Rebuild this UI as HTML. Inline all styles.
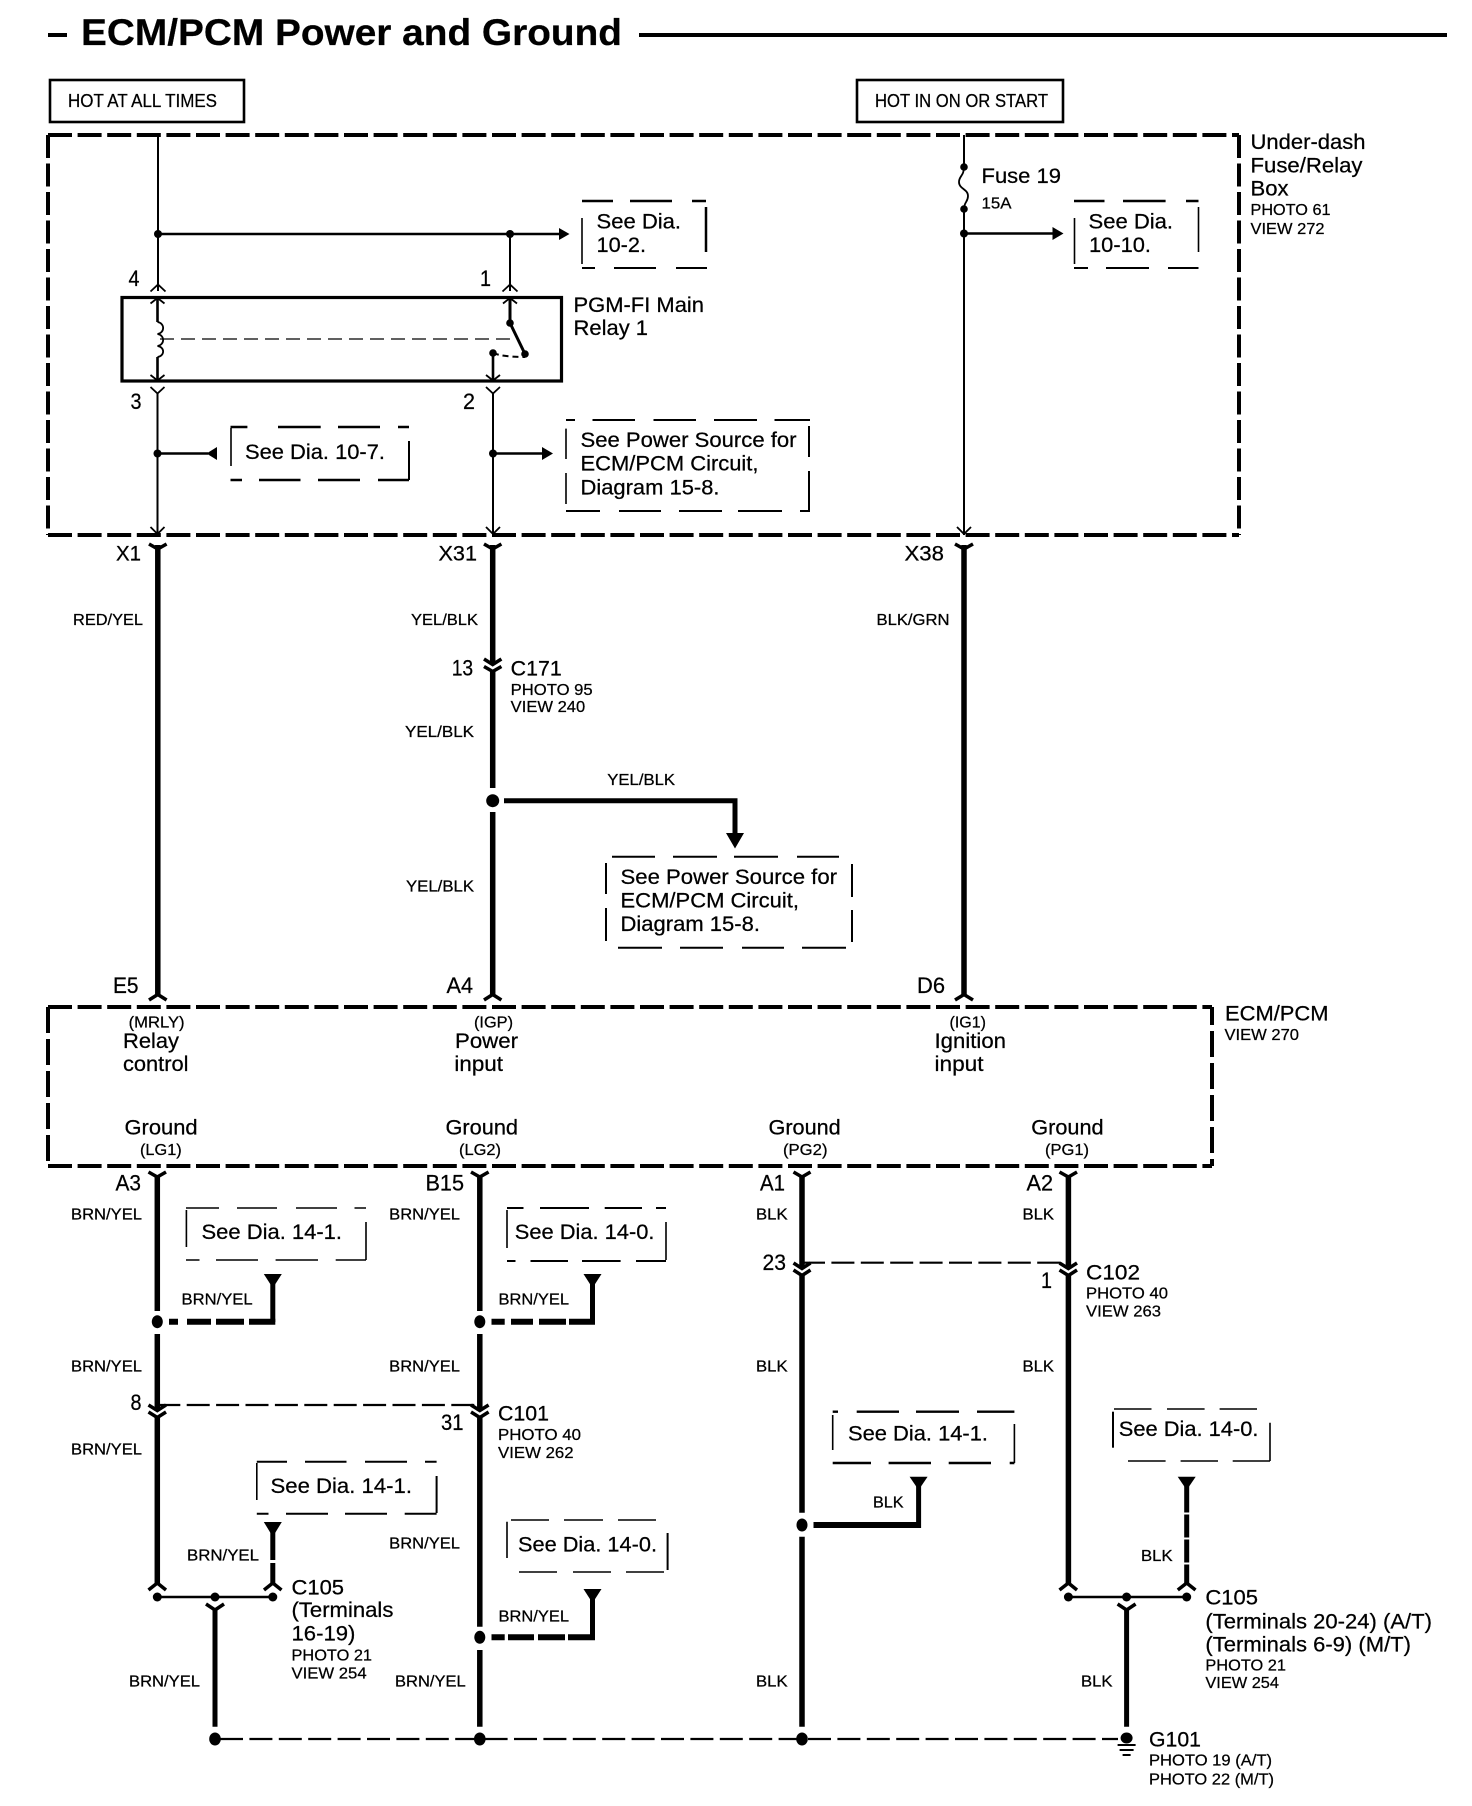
<!DOCTYPE html>
<html lang="en">
<head>
<meta charset="utf-8">
<title>ECM/PCM Power and Ground</title>
<style>
html,body{margin:0;padding:0;background:#fff}
svg{display:block}
text{font-family:"Liberation Sans",sans-serif;fill:#000;stroke:#000;stroke-width:.25}
.t{font-size:37px;font-weight:bold}
.m{font-size:21px}
.s{font-size:16px}
.h{font-size:18px}
.n{font-size:22px}
.w{fill:none;stroke:#000}
.b{fill:none;stroke:#000;stroke-width:5.5}
.c{fill:none;stroke:#000;stroke-width:3.5}
.f{fill:none;stroke:#000;stroke-width:1.8}
.d{fill:none;stroke:#000;stroke-width:2}
.e{fill:none;stroke:#000;stroke-width:4;stroke-dasharray:24 5.6}
.v{fill:none;stroke:#000;stroke-width:4;stroke-dasharray:23 5.5}
.x{fill:none;stroke:#000;stroke-width:4;stroke-dasharray:26 6}
.l{fill:none;stroke:#000;stroke-width:2.2;stroke-dasharray:23 6.4}
.k{fill:#000;stroke:none}
</style>
</head>
<body>
<svg width="1472" height="1806" viewBox="0 0 1472 1806" xmlns="http://www.w3.org/2000/svg">
<rect width="1472" height="1806" fill="#fff"/>

<!-- Title -->
<path class="w" stroke-width="4" d="M48 35H67M639 35H1447"/>
<text class="t" x="81" y="45" textLength="541" lengthAdjust="spacingAndGlyphs">ECM/PCM Power and Ground</text>

<!-- Hot boxes -->
<rect class="w" stroke-width="2.6" x="50" y="80" width="194" height="42"/>
<text class="h" x="68" y="107" textLength="149" lengthAdjust="spacingAndGlyphs">HOT AT ALL TIMES</text>
<rect class="w" stroke-width="2.6" x="857" y="80" width="206" height="42"/>
<text class="h" x="875" y="107" textLength="173" lengthAdjust="spacingAndGlyphs">HOT IN ON OR START</text>

<!-- Under-dash box -->
<path class="e" d="M48 135H1239"/>
<path class="e" d="M48 535H1239"/>
<path class="v" d="M48 135V535"/>
<path class="v" d="M1239 135V535"/>
<text class="m" x="1250.500" y="149" textLength="115" lengthAdjust="spacingAndGlyphs">Under-dash</text>
<text class="m" x="1250.500" y="172.500" textLength="112" lengthAdjust="spacingAndGlyphs">Fuse/Relay</text>
<text class="m" x="1250.500" y="195.500" textLength="38" lengthAdjust="spacingAndGlyphs">Box</text>
<text class="s" x="1250.500" y="215" textLength="80" lengthAdjust="spacingAndGlyphs">PHOTO 61</text>
<text class="s" x="1250.500" y="234" textLength="74" lengthAdjust="spacingAndGlyphs">VIEW 272</text>

<!-- Top wiring -->
<path class="d" d="M158 135V291M510 234V291"/>
<path class="w" stroke-width="2.6" d="M158 234H560"/>
<circle class="k" cx="158" cy="234" r="4"/><circle class="k" cx="510" cy="234" r="4"/>
<path class="k" d="M559 228L569.500 234L559 240Z"/>
<path class="f" d="M150.500 291.500L158 284.500L165.500 291.500M502.500 291.500L510 284.500L517.500 291.500"/>
<text class="n" x="128.500" y="286" textLength="11" lengthAdjust="spacingAndGlyphs">4</text>
<text class="n" x="480" y="286" textLength="11" lengthAdjust="spacingAndGlyphs">1</text>
<text class="n" x="130.500" y="409" textLength="11" lengthAdjust="spacingAndGlyphs">3</text>
<text class="n" x="463" y="409" textLength="12" lengthAdjust="spacingAndGlyphs">2</text>

<!-- See Dia 10-2 -->
<path class="w" stroke-width="2.5" d="M582 201H613M630 201H672M692 201H706M706 207V252"/>
<path class="d" d="M582 268H595M614 268H656M676 268H707"/>
<path class="w" stroke-width="1.6" d="M582 218V264"/>
<text class="m" x="596.500" y="228.500" textLength="84.500" lengthAdjust="spacingAndGlyphs">See Dia.</text>
<text class="m" x="596.500" y="252" textLength="49.500" lengthAdjust="spacingAndGlyphs">10-2.</text>

<!-- Relay -->
<rect class="w" stroke-width="3.2" x="122" y="297.500" width="439.500" height="83.500"/>
<path class="w" stroke-width="2.6" d="M157.500 298V322M157.500 357V380M493 353V380"/>
<path class="w" stroke-width="3" d="M510 298V323M510 323L525 354"/>
<path class="f" d="M150.500 303.500L157.500 298L164.500 303.500M150.500 375L157.500 380.500L164.500 375M503 303.500L510 298L517 303.500M486 375L493 380.500L500 375"/>
<path class="w" stroke-width="1.8" d="M157.500 322C165 323 165 333 157.500 334C165 335 165 345 157.500 346C165 347 165 356 157.500 357"/>
<path class="w" stroke-width="1.2" stroke-dasharray="14 7" d="M160 339H517"/>
<circle class="k" cx="510" cy="323" r="3.800"/><circle class="k" cx="525" cy="354" r="3.800"/><circle class="k" cx="493" cy="353" r="3.800"/>
<path class="w" stroke-width="2" stroke-dasharray="6 4" d="M493 353Q503 357 525 357"/>
<path class="f" d="M150.500 387L157.500 393.500L164.500 387M486 387L493 393.500L500 387"/>
<path class="d" d="M157.500 393V535M493 393V535"/>
<path class="f" d="M150.500 527L157.500 534L164.500 527M486 527L493 534L500 527"/>
<text class="m" x="573.500" y="312" textLength="130.500" lengthAdjust="spacingAndGlyphs">PGM-FI Main</text>
<text class="m" x="573.500" y="335" textLength="74.500" lengthAdjust="spacingAndGlyphs">Relay 1</text>

<!-- See Dia 10-7 -->
<path class="w" stroke-width="2.6" d="M157.500 453.500H208M493 453.500H543"/>
<circle class="k" cx="157.500" cy="453.500" r="4"/><circle class="k" cx="493" cy="453.500" r="4"/>
<path class="k" d="M217 447V460L206.500 453.500Z"/>
<path class="k" d="M542 447V460L553 453.500Z"/>
<path class="w" stroke-width="2.4" d="M230.500 427H247.400M278 427H320.700M338 427H380M398 427H409M230.500 480H242M259 480H300.500M318 480H360M378 480H409"/>
<path class="w" stroke-width="1.6" d="M231 428V466"/>
<path class="d" d="M409 441V480"/>
<text class="m" x="245" y="459" textLength="140" lengthAdjust="spacingAndGlyphs">See Dia. 10-7.</text>

<!-- See Power 1 -->
<path class="d" d="M566 420H575M592.500 420H635M653.500 420H696M714 420H757M774.500 420H810M566 511H600M619 511H661M679 511H722M738 511H782M800 511H810"/>
<path class="w" stroke-width="1.6" d="M566 428.600V459M566 473V504"/>
<path class="d" d="M809 426V457M809 471V511"/>
<text class="m" x="580.500" y="447" textLength="216" lengthAdjust="spacingAndGlyphs">See Power Source for</text>
<text class="m" x="580.500" y="470.500" textLength="178" lengthAdjust="spacingAndGlyphs">ECM/PCM Circuit,</text>
<text class="m" x="580.500" y="494.500" textLength="139" lengthAdjust="spacingAndGlyphs">Diagram 15-8.</text>

<!-- Fuse -->
<path class="d" d="M964 135V167M964 209V535"/>
<path class="w" stroke-width="1.8" d="M964 167C964 176 959 176 959 182C959 189 968 189 968 196C968 202 964 202 964 209"/>
<circle class="k" cx="964" cy="167" r="3.800"/><circle class="k" cx="964" cy="209" r="3.800"/><circle class="k" cx="964" cy="233.500" r="4"/>
<path class="w" stroke-width="2.6" d="M964 233.500H1054"/>
<path class="k" d="M1052.500 227L1063.500 233.500L1052.500 240Z"/>
<path class="f" d="M957 527L964 534L971 527"/>
<text class="m" x="981.500" y="183" textLength="79.500" lengthAdjust="spacingAndGlyphs">Fuse 19</text>
<text class="s" x="981.500" y="208.500" textLength="30" lengthAdjust="spacingAndGlyphs">15A</text>

<!-- See Dia 10-10 -->
<path class="w" stroke-width="2.5" d="M1074 201H1104.500M1123 201H1165.600M1186 201H1198.500"/>
<path class="d" d="M1074 268H1088M1106 268H1149M1168 268H1198.500"/>
<path class="w" stroke-width="1.6" d="M1074.500 218V264M1198.500 207V252"/>
<text class="m" x="1088.500" y="228.500" textLength="84.500" lengthAdjust="spacingAndGlyphs">See Dia.</text>
<text class="m" x="1089" y="252" textLength="62" lengthAdjust="spacingAndGlyphs">10-10.</text>

<!-- Thick mid wires -->
<path class="b" d="M157.800 545V995M492.700 545V664M492.700 671V788M492.700 812V995M964 545V995"/>
<path class="c" d="M149 544L157.800 549L166.600 544M484 544L492.700 549L501.400 544M955 544L964 549L973 544"/>
<path class="c" d="M484 659L492.700 664.500L501.400 659M484 666.500L492.700 671.500L501.400 666.500"/>
<path class="c" d="M149 1000L157.800 994.500L166.600 1000M484 1000L492.700 994.500L501.400 1000M955 1000L964 994.500L973 1000"/>
<text class="m" x="116" y="560.500" textLength="25" lengthAdjust="spacingAndGlyphs">X1</text>
<text class="m" x="438.500" y="560.500" textLength="38.500" lengthAdjust="spacingAndGlyphs">X31</text>
<text class="m" x="904.500" y="560.500" textLength="39.500" lengthAdjust="spacingAndGlyphs">X38</text>
<text class="s" x="73" y="625" textLength="70" lengthAdjust="spacingAndGlyphs">RED/YEL</text>
<text class="s" x="411" y="625" textLength="67" lengthAdjust="spacingAndGlyphs">YEL/BLK</text>
<text class="s" x="876.500" y="625" textLength="73" lengthAdjust="spacingAndGlyphs">BLK/GRN</text>
<text class="n" x="451.700" y="675.700" textLength="21.500" lengthAdjust="spacingAndGlyphs">13</text>
<text class="m" x="510.700" y="675.500" textLength="51" lengthAdjust="spacingAndGlyphs">C171</text>
<text class="s" x="510.700" y="695" textLength="82" lengthAdjust="spacingAndGlyphs">PHOTO 95</text>
<text class="s" x="510.700" y="712" textLength="74.500" lengthAdjust="spacingAndGlyphs">VIEW 240</text>
<text class="s" x="405" y="737" textLength="69" lengthAdjust="spacingAndGlyphs">YEL/BLK</text>

<!-- Branch -->
<ellipse class="k" cx="492.700" cy="800.700" rx="6.500" ry="6.500"/>
<path class="w" stroke-width="5" d="M504 800.700H735V835"/>
<path class="k" d="M726 833H744L735 848.500Z"/>
<text class="s" x="607.300" y="785" textLength="67.700" lengthAdjust="spacingAndGlyphs">YEL/BLK</text>
<text class="s" x="406" y="891.700" textLength="68" lengthAdjust="spacingAndGlyphs">YEL/BLK</text>
<path class="d" d="M612 856.700H655M673 856.700H717M734 856.700H778M797 856.700H839M618 947.700H662M680 947.700H723M742 947.700H784M802 947.700H846M606 863V894M606 908V941M852 864V897M852 910V942"/>
<text class="m" x="620.500" y="884" textLength="216.500" lengthAdjust="spacingAndGlyphs">See Power Source for</text>
<text class="m" x="620.500" y="907.700" textLength="178.500" lengthAdjust="spacingAndGlyphs">ECM/PCM Circuit,</text>
<text class="m" x="620.500" y="931" textLength="139.500" lengthAdjust="spacingAndGlyphs">Diagram 15-8.</text>

<!-- ECM box -->
<path class="e" d="M48 1007H1212"/>
<path class="e" d="M48 1166H1212"/>
<path class="x" d="M48 1007V1166"/>
<path class="x" stroke-dashoffset="8" d="M1212 1007V1166"/>
<text class="n" x="113" y="993" textLength="25.500" lengthAdjust="spacingAndGlyphs">E5</text>
<text class="n" x="446.500" y="993" textLength="26.500" lengthAdjust="spacingAndGlyphs">A4</text>
<text class="n" x="917" y="993" textLength="28" lengthAdjust="spacingAndGlyphs">D6</text>
<text class="s" x="128.600" y="1027.700" textLength="56" lengthAdjust="spacingAndGlyphs">(MRLY)</text>
<text class="s" x="474" y="1027.700" textLength="39" lengthAdjust="spacingAndGlyphs">(IGP)</text>
<text class="s" x="949.500" y="1027.700" textLength="36.500" lengthAdjust="spacingAndGlyphs">(IG1)</text>
<text class="m" x="123" y="1048" textLength="56" lengthAdjust="spacingAndGlyphs">Relay</text>
<text class="m" x="123" y="1071" textLength="65.500" lengthAdjust="spacingAndGlyphs">control</text>
<text class="m" x="455" y="1048" textLength="63" lengthAdjust="spacingAndGlyphs">Power</text>
<text class="m" x="454.400" y="1071" textLength="48.600" lengthAdjust="spacingAndGlyphs">input</text>
<text class="m" x="934.500" y="1048" textLength="71.500" lengthAdjust="spacingAndGlyphs">Ignition</text>
<text class="m" x="934.500" y="1071" textLength="49" lengthAdjust="spacingAndGlyphs">input</text>
<text class="m" x="124.500" y="1134.700" textLength="73.100" lengthAdjust="spacingAndGlyphs">Ground</text>
<text class="m" x="445.500" y="1134.700" textLength="72.500" lengthAdjust="spacingAndGlyphs">Ground</text>
<text class="m" x="768.500" y="1134.700" textLength="72.200" lengthAdjust="spacingAndGlyphs">Ground</text>
<text class="m" x="1031.300" y="1134.700" textLength="72.300" lengthAdjust="spacingAndGlyphs">Ground</text>
<text class="s" x="140" y="1155" textLength="41.700" lengthAdjust="spacingAndGlyphs">(LG1)</text>
<text class="s" x="459" y="1155" textLength="42" lengthAdjust="spacingAndGlyphs">(LG2)</text>
<text class="s" x="783" y="1155" textLength="44.500" lengthAdjust="spacingAndGlyphs">(PG2)</text>
<text class="s" x="1045" y="1155" textLength="44" lengthAdjust="spacingAndGlyphs">(PG1)</text>
<text class="m" x="1225" y="1020.700" textLength="103.500" lengthAdjust="spacingAndGlyphs">ECM/PCM</text>
<text class="s" x="1224.500" y="1040" textLength="74.500" lengthAdjust="spacingAndGlyphs">VIEW 270</text>

<!-- Lower wires -->
<path class="b" d="M157.300 1177V1311M157.300 1334V1410M157.300 1417V1583M479.800 1177V1311M479.800 1334V1410M479.800 1417V1626.700M479.800 1650V1726.700M802 1177V1268M802 1275V1512.700M802 1536.700V1726.700M1068.400 1177V1268M1068.400 1275V1583"/>
<path class="c" d="M148.500 1172L157.300 1177L166 1172M471 1172L479.800 1177L488.600 1172M793.500 1172L802 1177L810.500 1172M1059.500 1172L1068.400 1177L1077 1172"/>
<path class="l" d="M802 1262.700H1068"/>
<path class="l" d="M157.300 1405H480"/>
<path class="c" d="M793.500 1263L802 1268.500L810.500 1263M793.500 1270L802 1275.500L810.500 1270M1059.500 1263L1068.400 1268.500L1077 1263M1059.500 1270L1068.400 1275.500L1077 1270"/>
<path class="c" d="M148.500 1405L157.300 1410.500L166 1405M148.500 1412L157.300 1417.500L166 1412M471 1405L479.800 1410.500L488.600 1405M471 1412L479.800 1417.500L488.600 1412"/>

<text class="n" x="115.500" y="1190.700" textLength="25.500" lengthAdjust="spacingAndGlyphs">A3</text>
<text class="n" x="425.500" y="1190.700" textLength="38.500" lengthAdjust="spacingAndGlyphs">B15</text>
<text class="n" x="760" y="1190.700" textLength="25" lengthAdjust="spacingAndGlyphs">A1</text>
<text class="n" x="1026.500" y="1190.700" textLength="26.500" lengthAdjust="spacingAndGlyphs">A2</text>
<text class="s" x="71" y="1219.500" textLength="71" lengthAdjust="spacingAndGlyphs">BRN/YEL</text>
<text class="s" x="389.200" y="1219.500" textLength="70.800" lengthAdjust="spacingAndGlyphs">BRN/YEL</text>
<text class="s" x="756" y="1219.500" textLength="31.600" lengthAdjust="spacingAndGlyphs">BLK</text>
<text class="s" x="1022.500" y="1219.500" textLength="31.500" lengthAdjust="spacingAndGlyphs">BLK</text>
<text class="s" x="71" y="1371.700" textLength="71" lengthAdjust="spacingAndGlyphs">BRN/YEL</text>
<text class="s" x="389.200" y="1371.700" textLength="70.800" lengthAdjust="spacingAndGlyphs">BRN/YEL</text>
<text class="s" x="756" y="1371.700" textLength="31.600" lengthAdjust="spacingAndGlyphs">BLK</text>
<text class="s" x="1022.500" y="1371.700" textLength="31.500" lengthAdjust="spacingAndGlyphs">BLK</text>
<text class="s" x="71" y="1454.500" textLength="71" lengthAdjust="spacingAndGlyphs">BRN/YEL</text>
<text class="s" x="389.200" y="1548.300" textLength="70.800" lengthAdjust="spacingAndGlyphs">BRN/YEL</text>
<text class="s" x="129" y="1686.700" textLength="71" lengthAdjust="spacingAndGlyphs">BRN/YEL</text>
<text class="s" x="395" y="1686.700" textLength="70.700" lengthAdjust="spacingAndGlyphs">BRN/YEL</text>
<text class="s" x="756" y="1686.700" textLength="31.600" lengthAdjust="spacingAndGlyphs">BLK</text>
<text class="s" x="1081" y="1686.700" textLength="31.500" lengthAdjust="spacingAndGlyphs">BLK</text>

<!-- C102 / C101 labels -->
<text class="n" x="762.500" y="1270" textLength="23.500" lengthAdjust="spacingAndGlyphs">23</text>
<text class="n" x="1041" y="1288" textLength="11" lengthAdjust="spacingAndGlyphs">1</text>
<text class="m" x="1086" y="1279.500" textLength="54" lengthAdjust="spacingAndGlyphs">C102</text>
<text class="s" x="1086" y="1298.700" textLength="82" lengthAdjust="spacingAndGlyphs">PHOTO 40</text>
<text class="s" x="1086" y="1316.700" textLength="75" lengthAdjust="spacingAndGlyphs">VIEW 263</text>
<text class="n" x="130.500" y="1410" textLength="11" lengthAdjust="spacingAndGlyphs">8</text>
<text class="n" x="441" y="1430" textLength="22.500" lengthAdjust="spacingAndGlyphs">31</text>
<text class="m" x="498" y="1420.700" textLength="51" lengthAdjust="spacingAndGlyphs">C101</text>
<text class="s" x="498" y="1440" textLength="83" lengthAdjust="spacingAndGlyphs">PHOTO 40</text>
<text class="s" x="498" y="1458" textLength="75.600" lengthAdjust="spacingAndGlyphs">VIEW 262</text>

<!-- 14-1 first -->
<path class="w" stroke-width="1.6" d="M186 1208H219M237 1208H277M296 1208H337M354.500 1208H366M186 1260H199.500M216 1260H258M275.600 1260H318M335.700 1260H366M186.400 1210V1247M366 1222V1260"/>
<text class="m" x="201.500" y="1239" textLength="140.500" lengthAdjust="spacingAndGlyphs">See Dia. 14-1.</text>
<path class="k" d="M263.800 1274H281.800L272.800 1288Z"/>
<path class="w" stroke-width="5" d="M272.800 1284V1322"/>
<path class="w" stroke-width="6" d="M169 1321.700H178M187 1321.700H211M216 1321.700H244M249 1321.700H275.300"/>
<ellipse class="k" cx="157.300" cy="1321.700" rx="5.500" ry="6.500"/>
<text class="s" x="181.500" y="1304.500" textLength="71.100" lengthAdjust="spacingAndGlyphs">BRN/YEL</text>

<!-- 14-0 first -->
<path class="d" d="M507 1208H523.500M540 1208H589M604.700 1208H642M656 1208H666M507 1261H515.500M530.500 1261H568M582 1261H620.600M636 1261H666"/>
<path class="w" stroke-width="1.6" d="M507 1210V1248M666 1222V1260"/>
<text class="m" x="514.800" y="1239" textLength="139.700" lengthAdjust="spacingAndGlyphs">See Dia. 14-0.</text>
<path class="k" d="M583.500 1274H601.500L592.500 1288Z"/>
<path class="w" stroke-width="5" d="M592.500 1284V1322"/>
<path class="w" stroke-width="6" d="M491.500 1321.700H504.700M511 1321.700H533M539 1321.700H566M569 1321.700H595"/>
<ellipse class="k" cx="479.800" cy="1321.700" rx="5.500" ry="6.500"/>
<text class="s" x="498.500" y="1304.500" textLength="70.500" lengthAdjust="spacingAndGlyphs">BRN/YEL</text>

<!-- 14-1 second -->
<path class="d" d="M256.800 1461.700H287M305 1461.700H346.500M365 1461.700H407M425 1461.700H436.600M256.800 1513.700H268.500M286 1513.700H328M345 1513.700H387M404.700 1513.700H436.600M436.600 1476V1513"/>
<path class="w" stroke-width="1.6" d="M256.800 1463V1500"/>
<text class="m" x="270.500" y="1493" textLength="141.500" lengthAdjust="spacingAndGlyphs">See Dia. 14-1.</text>
<path class="k" d="M263.800 1522H281.800L272.800 1536.700Z"/>
<path class="w" stroke-width="5" d="M272.800 1532V1560M272.800 1563V1583"/>
<text class="s" x="187" y="1560.500" textLength="72" lengthAdjust="spacingAndGlyphs">BRN/YEL</text>

<!-- C105 left -->
<path class="c" d="M148.500 1590L157.300 1583L166 1590M264 1590L272.800 1583L281.500 1590"/>
<path class="w" stroke-width="2.6" d="M157.300 1597H272.800"/>
<circle class="k" cx="157.300" cy="1597" r="4.500"/><circle class="k" cx="215" cy="1597" r="4.500"/><circle class="k" cx="272.800" cy="1597" r="4.500"/>
<path class="c" d="M206 1604L215 1610L224 1604"/>
<path class="w" stroke-width="5" d="M215 1608V1726.700"/>
<text class="m" x="291.500" y="1594.300" textLength="52.500" lengthAdjust="spacingAndGlyphs">C105</text>
<text class="m" x="291.500" y="1617" textLength="101.900" lengthAdjust="spacingAndGlyphs">(Terminals</text>
<text class="m" x="291.500" y="1640.700" textLength="63.900" lengthAdjust="spacingAndGlyphs">16-19)</text>
<text class="s" x="291.500" y="1660.700" textLength="80.500" lengthAdjust="spacingAndGlyphs">PHOTO 21</text>
<text class="s" x="291.500" y="1678.300" textLength="75.100" lengthAdjust="spacingAndGlyphs">VIEW 254</text>

<!-- 14-0 second -->
<path class="w" stroke-width="1.6" d="M511 1520H549M564 1520H603M618 1520H656M519 1572H557M573 1572H611M626 1572H664M507 1521.700V1558"/>
<path class="d" d="M667.600 1533V1570"/>
<text class="m" x="518" y="1551.700" textLength="139" lengthAdjust="spacingAndGlyphs">See Dia. 14-0.</text>
<path class="k" d="M583.500 1589H601.500L592.500 1603Z"/>
<path class="w" stroke-width="5" d="M592.500 1599V1638"/>
<path class="w" stroke-width="6" d="M491.500 1637.300H504.700M508 1637.300H534M538 1637.300H565M568 1637.300H595"/>
<ellipse class="k" cx="479.800" cy="1637.300" rx="5.500" ry="6.500"/>
<text class="s" x="498.500" y="1621.500" textLength="70.500" lengthAdjust="spacingAndGlyphs">BRN/YEL</text>

<!-- 14-1 third -->
<path class="w" stroke-width="2.4" d="M832.700 1411.700H838M856.700 1411.700H899M916 1411.700H959M977 1411.700H1014.400M832.700 1463H871M888.600 1463H931M948.700 1463H991M1009.700 1463H1014.400"/>
<path class="w" stroke-width="1.6" d="M832.700 1415V1450M1014.400 1424V1463"/>
<text class="m" x="848" y="1440.700" textLength="140" lengthAdjust="spacingAndGlyphs">See Dia. 14-1.</text>
<path class="k" d="M909.600 1476.700H927.600L918.600 1490Z"/>
<path class="w" stroke-width="5" d="M918.600 1486V1528"/>
<path class="w" stroke-width="6" d="M813.500 1525H921"/>
<ellipse class="k" cx="802" cy="1525" rx="5.500" ry="6.500"/>
<text class="s" x="873" y="1507.700" textLength="30.600" lengthAdjust="spacingAndGlyphs">BLK</text>

<!-- 14-0 third -->
<path class="w" stroke-width="1.6" d="M1114 1409H1151.500M1167 1409H1204.600M1219.600 1409H1257M1128 1461H1165.600M1180.600 1461H1218M1232.700 1461H1270M1270 1422.700V1461"/>
<path class="d" d="M1113 1411.700V1447.700"/>
<text class="m" x="1118.800" y="1436" textLength="139.700" lengthAdjust="spacingAndGlyphs">See Dia. 14-0.</text>
<path class="k" d="M1177.700 1476.700H1195.700L1186.700 1490Z"/>
<path class="w" stroke-width="5" d="M1186.700 1486V1512.500M1186.700 1514.500V1537.500M1186.700 1539.500V1562.500M1186.700 1564.500V1583"/>
<text class="s" x="1141" y="1561" textLength="31.600" lengthAdjust="spacingAndGlyphs">BLK</text>

<!-- C105 right -->
<path class="c" d="M1059.500 1590L1068.400 1583L1077 1590M1177.800 1590L1186.700 1583L1195.500 1590"/>
<path class="w" stroke-width="2.6" d="M1068.400 1597H1186.700"/>
<circle class="k" cx="1068.400" cy="1597" r="4.500"/><circle class="k" cx="1126.600" cy="1597" r="4.500"/><circle class="k" cx="1186.700" cy="1597" r="4.500"/>
<path class="c" d="M1117.600 1604L1126.600 1610L1135.600 1604"/>
<path class="w" stroke-width="5" d="M1126.600 1608V1726.700"/>
<text class="m" x="1205.400" y="1604.300" textLength="52.600" lengthAdjust="spacingAndGlyphs">C105</text>
<text class="m" x="1205.400" y="1628.300" textLength="226.600" lengthAdjust="spacingAndGlyphs">(Terminals 20-24) (A/T)</text>
<text class="m" x="1205.400" y="1651.700" textLength="205.600" lengthAdjust="spacingAndGlyphs">(Terminals 6-9) (M/T)</text>
<text class="s" x="1205.400" y="1670.700" textLength="80.600" lengthAdjust="spacingAndGlyphs">PHOTO 21</text>
<text class="s" x="1205.400" y="1688" textLength="73.600" lengthAdjust="spacingAndGlyphs">VIEW 254</text>

<!-- Ground bus -->
<path class="l" d="M220 1739H1118"/>
<ellipse class="k" cx="215" cy="1739" rx="5.800" ry="6.500"/>
<ellipse class="k" cx="479.800" cy="1739" rx="5.800" ry="6.500"/>
<ellipse class="k" cx="802" cy="1739" rx="5.800" ry="6.500"/>
<ellipse class="k" cx="1126.600" cy="1738" rx="6" ry="5.500"/>
<path class="w" stroke-width="2" d="M1117.600 1745H1135.600M1119.600 1750H1133.600M1122.600 1755H1130.600"/>
<text class="m" x="1149" y="1746.700" textLength="52" lengthAdjust="spacingAndGlyphs">G101</text>
<text class="s" x="1149" y="1765.700" textLength="123" lengthAdjust="spacingAndGlyphs">PHOTO 19 (A/T)</text>
<text class="s" x="1149" y="1784.300" textLength="125" lengthAdjust="spacingAndGlyphs">PHOTO 22 (M/T)</text>
</svg>
</body>
</html>
